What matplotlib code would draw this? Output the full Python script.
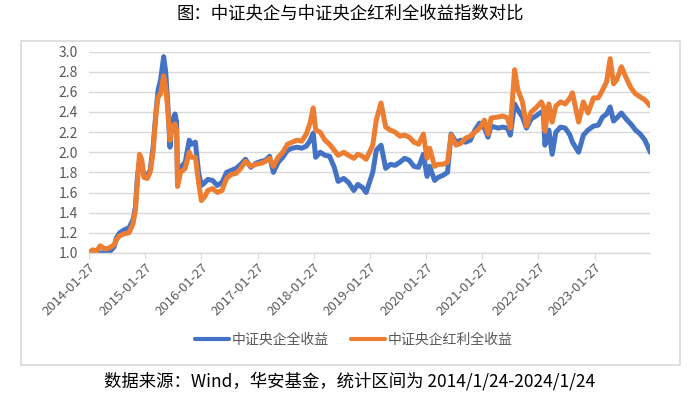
import matplotlib
matplotlib.use("Agg")
import matplotlib.pyplot as plt
import pandas as pd
from matplotlib.patches import Rectangle

plt.rcParams['font.family'] = ['Noto Sans CJK SC', 'DejaVu Sans']

# 数据
dates = [
    "2014-01-27", "2014-02-20", "2014-03-20", "2014-04-10", "2014-05-10", "2014-06-10",
    "2014-07-10", "2014-07-25", "2014-08-15", "2014-09-15", "2014-10-15", "2014-11-10",
    "2014-11-25", "2014-12-08", "2014-12-22", "2015-01-05", "2015-01-20", "2015-02-10",
    "2015-03-01", "2015-03-20", "2015-04-08", "2015-04-22", "2015-05-08", "2015-05-28",
    "2015-06-10", "2015-06-25", "2015-07-08", "2015-07-20", "2015-08-10", "2015-08-20",
    "2015-08-26", "2015-09-15", "2015-10-15", "2015-11-10", "2015-11-25", "2015-12-20",
    "2016-01-10", "2016-01-28", "2016-02-20", "2016-03-10", "2016-04-10", "2016-05-10",
    "2016-06-10", "2016-07-10", "2016-08-10", "2016-09-10", "2016-10-10", "2016-11-10",
    "2016-12-15", "2017-01-15", "2017-02-20", "2017-03-20", "2017-04-15", "2017-05-10",
    "2017-06-10", "2017-07-10", "2017-08-10", "2017-09-10", "2017-10-10", "2017-11-10",
    "2017-12-10", "2018-01-05", "2018-01-24", "2018-02-09", "2018-03-10", "2018-04-10",
    "2018-05-10", "2018-06-10", "2018-07-05", "2018-08-10", "2018-09-10", "2018-10-15",
    "2018-11-10", "2018-12-10", "2019-01-03", "2019-02-15", "2019-03-10", "2019-04-10",
    "2019-05-10", "2019-06-10", "2019-07-10", "2019-08-10", "2019-09-10", "2019-10-10",
    "2019-11-10", "2019-12-10", "2020-01-10", "2020-02-03", "2020-02-20", "2020-03-23",
    "2020-04-15", "2020-05-15", "2020-06-15", "2020-07-08", "2020-08-10", "2020-09-10",
    "2020-10-10", "2020-11-10", "2020-12-10", "2021-01-10", "2021-02-10", "2021-03-05",
    "2021-03-25", "2021-05-10", "2021-06-10", "2021-07-10", "2021-07-28", "2021-08-25",
    "2021-09-15", "2021-10-15", "2021-11-10", "2021-12-10", "2022-01-10", "2022-02-15",
    "2022-03-01", "2022-03-10", "2022-04-05", "2022-04-26", "2022-05-20", "2022-06-20",
    "2022-07-20", "2022-08-20", "2022-09-05", "2022-10-15", "2022-11-15", "2022-12-15",
    "2023-01-20", "2023-02-20", "2023-03-20", "2023-04-15", "2023-05-08", "2023-05-30",
    "2023-06-20", "2023-07-20", "2023-08-20", "2023-09-20", "2023-10-20", "2023-11-20",
    "2023-12-20", "2024-01-24",
]
central_soe = [
    1.00, 1.00, 1.00, 1.00, 1.00, 1.01,
    1.06, 1.15, 1.20, 1.23, 1.25, 1.33,
    1.45, 1.75, 1.92, 1.88, 1.76, 1.77,
    1.82, 2.05, 2.40, 2.62, 2.72, 2.95,
    2.80, 2.45, 2.05, 2.30, 2.38, 2.30,
    1.72, 1.85, 1.90, 2.12, 2.08, 2.10,
    1.80, 1.67, 1.70, 1.73, 1.72, 1.67,
    1.70, 1.80, 1.82, 1.84, 1.88, 1.93,
    1.85, 1.89, 1.91, 1.92, 1.96, 1.80,
    1.90, 1.95, 2.02, 2.04, 2.05, 2.04,
    2.06, 2.12, 2.19, 1.95, 2.00, 1.97,
    1.96, 1.85, 1.71, 1.74, 1.70, 1.62,
    1.68, 1.65, 1.60, 1.80, 2.02, 2.07,
    1.84, 1.88, 1.87, 1.90, 1.94, 1.92,
    1.86, 1.85, 1.98, 1.76, 1.86, 1.72,
    1.75, 1.77, 1.80, 2.18, 2.10, 2.12,
    2.10, 2.12, 2.22, 2.29, 2.24, 2.15,
    2.26, 2.24, 2.25, 2.24, 2.17, 2.48,
    2.42, 2.35, 2.24, 2.33, 2.36, 2.40,
    2.37, 2.07, 2.22, 1.98, 2.20, 2.25,
    2.24, 2.17, 2.10, 2.00, 2.17, 2.22,
    2.26, 2.27, 2.35, 2.38, 2.45, 2.31,
    2.34, 2.39, 2.33, 2.28, 2.22, 2.18,
    2.12, 2.00,
]
central_soe_div = [
    1.00, 1.03, 1.02, 1.07, 1.04, 1.05,
    1.08, 1.13, 1.17, 1.19, 1.20, 1.29,
    1.42, 1.70, 1.98, 1.93, 1.75, 1.74,
    1.80, 2.00, 2.38, 2.55, 2.58, 2.76,
    2.65, 2.40, 2.12, 2.25, 2.28, 2.22,
    1.66, 1.80, 1.84, 2.00, 1.95, 1.95,
    1.70, 1.52, 1.56, 1.62, 1.64, 1.60,
    1.62, 1.74, 1.78, 1.79, 1.84, 1.91,
    1.86, 1.88, 1.89, 1.91, 1.94, 1.86,
    1.95, 2.00, 2.08, 2.10, 2.12, 2.11,
    2.18, 2.30, 2.44, 2.22, 2.20, 2.12,
    2.08, 2.02, 1.97, 2.00, 1.97, 1.94,
    1.98, 1.96, 1.93, 2.07, 2.32, 2.49,
    2.25, 2.22, 2.20, 2.16, 2.17, 2.15,
    2.10, 2.08, 2.18, 1.94, 2.04, 1.86,
    1.88, 1.88, 1.90, 2.17, 2.07, 2.09,
    2.14, 2.16, 2.20, 2.24, 2.32, 2.18,
    2.34, 2.35, 2.36, 2.34, 2.24, 2.82,
    2.62, 2.50, 2.26, 2.40, 2.44, 2.50,
    2.45, 2.21, 2.48, 2.30, 2.46, 2.50,
    2.48, 2.54, 2.59, 2.30, 2.50, 2.39,
    2.54, 2.54, 2.62, 2.70, 2.93, 2.68,
    2.72, 2.85, 2.74, 2.64, 2.58, 2.55,
    2.52, 2.46,
]
tick_dates = ["2014-01-27", "2015-01-27", "2016-01-27", "2017-01-27", "2018-01-27",
              "2019-01-27", "2020-01-27", "2021-01-27", "2022-01-27", "2023-01-27"]

df = pd.DataFrame({"date": pd.to_datetime(dates),
                   "soe": central_soe, "div": central_soe_div})
ticks = pd.to_datetime(tick_dates)

fig = plt.figure(figsize=(7, 3.97), dpi=100)

# 图表外框
fig.patches.append(Rectangle((0.030, 0.081), 0.941, 0.816, transform=fig.transFigure,
                             fill=False, edgecolor='#d9d9d9', linewidth=1.2))

ax = fig.add_axes([0.127, 0.363, 0.802, 0.507])
ax.plot(df["date"], df["soe"], color='#4472C4', linewidth=3.6, label='中证央企全收益',
        solid_joinstyle='round', solid_capstyle='round')
ax.plot(df["date"], df["div"], color='#ED7D31', linewidth=3.6, label='中证央企红利全收益',
        solid_joinstyle='round', solid_capstyle='round')

ax.set_ylim(1.0, 3.0)
ax.set_yticks([1.0 + 0.2 * i for i in range(11)])
ax.yaxis.set_major_formatter(plt.FormatStrFormatter('%.1f'))
ax.set_xlim(pd.Timestamp("2014-01-27"), pd.Timestamp("2024-01-24"))
ax.set_xticks(ticks)
ax.set_xticklabels(tick_dates, rotation=45, ha='right', rotation_mode='anchor')

ax.grid(axis='y', color='#d9d9d9', linewidth=1)
ax.set_axisbelow(True)
for s in ['top', 'right', 'left']:
    ax.spines[s].set_visible(False)
ax.spines['bottom'].set_color('#d9d9d9')
ax.spines['bottom'].set_linewidth(1)
ax.tick_params(axis='y', length=0, pad=8, labelsize=10, labelcolor='#595959')
ax.tick_params(axis='x', length=4, color='#d9d9d9', pad=2, labelsize=9.5,
               labelcolor='#595959')

leg = fig.legend(loc='center', bbox_to_anchor=(0.505, 0.144), ncol=2, frameon=False,
                 fontsize=10, labelcolor='#595959', handlelength=2.5, columnspacing=1.6,
                 handletextpad=0.15)
for h in leg.get_lines():
    h.set_linewidth(3)

fig.text(0.5, 0.965, '图：中证央企与中证央企红利全收益指数对比', ha='center', va='center',
         fontsize=12.5, color='black')
fig.text(0.5, 0.04, '数据来源：Wind，华安基金，统计区间为 2014/1/24-2024/1/24',
         ha='center', va='center', fontsize=12.5, color='black')

fig.savefig("out.png", dpi=100)
